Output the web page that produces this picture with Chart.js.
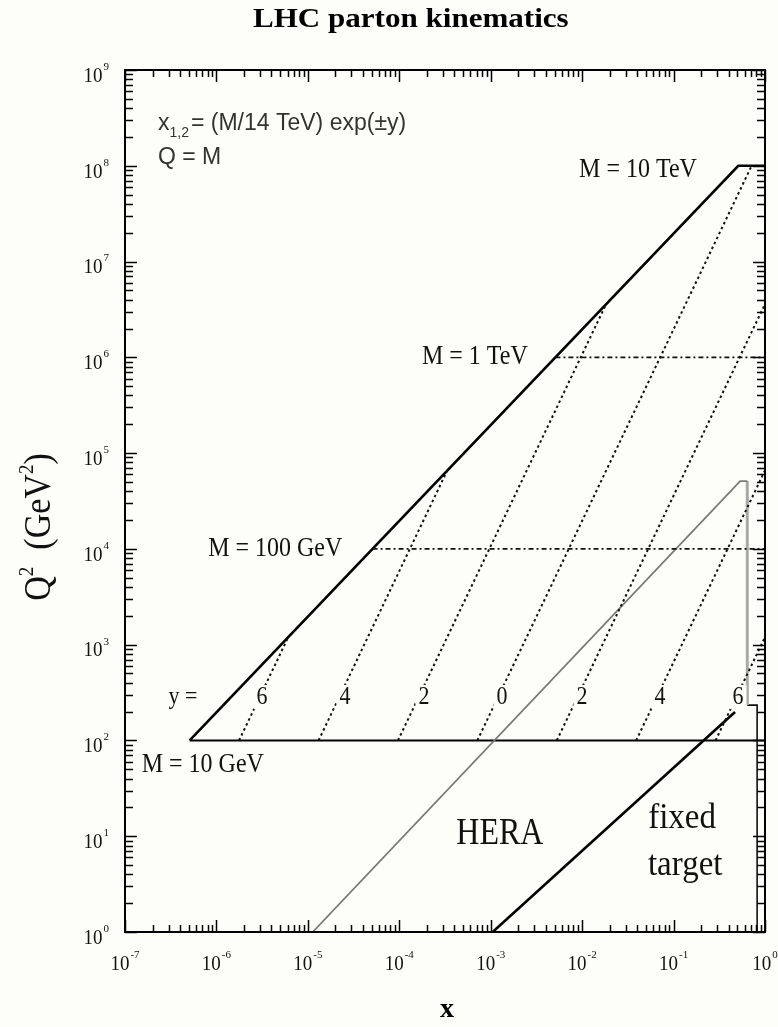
<!DOCTYPE html>
<html>
<head>
<meta charset="utf-8">
<script src="https://cdn.jsdelivr.net/npm/chart.js@4"></script>
<style>
  html, body { margin: 0; padding: 0; background: #fdfdf9; }
  #wrap { width: 778px; height: 1027px; position: relative; }
</style>
</head>
<body>
<div id="wrap"><canvas id="c" width="778" height="1027"></canvas></div>
<script>
// ---- data (x, Q^2 pairs) ----
const boundaryX = [5.1e-7, 0.51, 1];
const boundaryQ2 = [1e2, 1e8, 1e8];
const m10X = [5.1e-7, 1];
const m10Q2 = [1e2, 1e2];
const m100X = [5.1e-5, 1];
const m100Q2 = [1e4, 1e4];
const m1000X = [5.1e-3, 1];
const m1000Q2 = [1e6, 1e6];

const yLeft6X = [1.77e-6, 6.1e-6];   const yLeft6Q2 = [1e2, 1.2e3];
const yLeft4X = [1.31e-5, 3.35e-4];  const yLeft4Q2 = [1e2, 6.6e4];
const yLeft2X = [9.67e-5, 1.83e-2];  const yLeft2Q2 = [1e2, 3.6e6];
const y0X = [7.14e-4, 0.714];        const y0Q2 = [1e2, 1e8];
const yRight2X = [5.28e-3, 1];       const yRight2Q2 = [1e2, 3.6e6];
const yRight4X = [3.9e-2, 1];        const yRight4Q2 = [1e2, 6.6e4];
const yRight6X = [2.88e-1, 1];       const yRight6Q2 = [1e2, 1.2e3];

const heraX = [1.13e-5, 0.535, 0.64];
const heraQ2 = [1, 5.1e4, 5.1e4];
const heraEdgeX = [0.64, 0.64];
const heraEdgeQ2 = [5.1e4, 234];
const fixedEdgeX = [0.64, 0.82, 0.82];
const fixedEdgeQ2 = [234, 234, 1];
const fixedX = [1.05e-3, 0.47];
const fixedQ2 = [1, 198];

const xTickExps = [-7, -6, -5, -4, -3, -2, -1, 0];
const yTickExps = [0, 1, 2, 3, 4, 5, 6, 7, 8, 9];
const yLabelValues = ['6', '4', '2', '0', '2', '4', '6'];
const yLabelX = [3.15e-6, 2.55e-5, 1.86e-4, 1.33e-3, 9.96e-3, 7.1e-2, 0.507];

const BG = '#fdfdf9';

function pts(xs, ys) { return xs.map((x, i) => ({ x: x, y: ys[i] })); }
function ds(xs, ys, color, width, dash) {
  return { data: pts(xs, ys), borderColor: color, borderWidth: width, borderDash: dash || [],
           pointRadius: 0, fill: false, tension: 0, showLine: true, borderCapStyle: 'butt',
           borderJoinStyle: 'miter' };
}
const DOT = [2.5, 3];
const DASHDOT = [5, 3, 2, 3];

const datasets = [
  ds(m100X, m100Q2, '#111', 1.7, DASHDOT),
  ds(m1000X, m1000Q2, '#111', 1.7, DASHDOT),
  ds(yLeft6X, yLeft6Q2, '#111', 2, DOT),
  ds(yLeft4X, yLeft4Q2, '#111', 2, DOT),
  ds(yLeft2X, yLeft2Q2, '#111', 2, DOT),
  ds(y0X, y0Q2, '#111', 2, DOT),
  ds(yRight2X, yRight2Q2, '#111', 2, DOT),
  ds(yRight4X, yRight4Q2, '#111', 2, DOT),
  ds(yRight6X, yRight6Q2, '#111', 2, DOT),
  ds(heraX, heraQ2, '#7a7a7a', 1.8),
  ds(heraEdgeX, heraEdgeQ2, '#a8a8a8', 3),
  ds(fixedEdgeX, fixedEdgeQ2, '#111', 1.6),
  ds(fixedX, fixedQ2, '#000', 2.6),
  ds(m10X, m10Q2, '#000', 2),
  ds(boundaryX, boundaryQ2, '#000', 2.6),
];

function txt(ctx, s, x, y, o) {
  o = o || {};
  const size = o.size || 20;
  const sy = o.sy || 1;
  const sx = o.sx || 1;
  ctx.save();
  ctx.font = (o.bold ? 'bold ' : '') + size + 'px ' + (o.family || '"Liberation Serif", "Times New Roman", serif');
  ctx.textAlign = o.align || 'center';
  ctx.textBaseline = 'middle';
  if (o.bg) {
    const w = ctx.measureText(s).width * sx;
    let left = x - w / 2;
    if (ctx.textAlign === 'left') left = x;
    if (ctx.textAlign === 'right') left = x - w;
    const h = size * 0.8 * sy;
    ctx.fillStyle = o.bg;
    ctx.fillRect(left - 3, y - h / 2 - 2, w + 6, h + 4);
  }
  ctx.translate(x, y);
  ctx.scale(sx, sy);
  ctx.fillStyle = o.color || '#111';
  ctx.fillText(s, 0, 0);
  ctx.restore();
}

function pow10(ctx, exp, x, y, align) {
  ctx.save();
  const bf = '19px "Liberation Serif", serif';
  const ef = '11px "Liberation Serif", serif';
  ctx.font = bf; const wb = ctx.measureText('10').width;
  ctx.font = ef; const we = ctx.measureText(String(exp)).width;
  const total = wb + we + 1;
  let left = x - total / 2;
  if (align === 'right') left = x - total;
  ctx.fillStyle = '#111';
  ctx.textBaseline = 'middle';
  ctx.textAlign = 'left';
  ctx.translate(left, y);
  ctx.save(); ctx.scale(1, 1.15); ctx.font = bf; ctx.fillText('10', 0, 0); ctx.restore();
  ctx.font = ef;
  ctx.fillText(String(exp), wb + 1, -9);
  ctx.restore();
}

const decor = {
  id: 'decor',
  beforeDraw(chart) {
    const ctx = chart.ctx;
    ctx.save(); ctx.fillStyle = BG; ctx.fillRect(0, 0, chart.width, chart.height); ctx.restore();
  },
  afterDatasetsDraw(chart) {
    const ctx = chart.ctx, xs = chart.scales.x, ys = chart.scales.y;
    const P = (xv, yv) => [xs.getPixelForValue(xv), ys.getPixelForValue(yv)];
    let p;
    // formula annotation
    const SANS = '"Liberation Sans", Arial, sans-serif';
    txt(ctx, 'Q = M', 158, 157, { size: 23, align: 'left', family: SANS, color: '#333', sy: 1.05 });
    ctx.save();
    ctx.font = '23px ' + SANS;
    ctx.fillStyle = '#333'; ctx.textBaseline = 'middle'; ctx.textAlign = 'left';
    let cx = 158; const cy = 124;
    ctx.fillText('x', cx, cy); cx += ctx.measureText('x').width;
    ctx.font = '14px ' + SANS;
    ctx.fillText('1,2', cx, cy + 9); cx += ctx.measureText('1,2').width + 2;
    ctx.font = '23px ' + SANS;
    ctx.fillText('= (M/14 TeV) exp(\u00b1y)', cx, cy);
    ctx.restore();

    p = P(0.0408, 9.0e7); txt(ctx, 'M = 10 TeV', p[0], p[1], { size: 24, sy: 1.12, bg: BG });
    p = P(6.7e-4, 1e6);   txt(ctx, 'M = 1 TeV', p[0], p[1], { size: 24, sy: 1.12, bg: BG });
    p = P(4.4e-6, 1e4);   txt(ctx, 'M = 100 GeV', p[0], p[1], { size: 24, sy: 1.12, bg: BG });
    p = P(7.1e-7, 55);    txt(ctx, 'M = 10 GeV', p[0], p[1], { size: 24, sy: 1.12, bg: BG });
    p = P(4.3e-7, 284);   txt(ctx, 'y =', p[0], p[1], { size: 22, sy: 1.15, bg: BG });
    yLabelValues.forEach((v, i) => {
      p = P(yLabelX[i], 284); txt(ctx, v, p[0], p[1], { size: 22, sy: 1.15, bg: BG });
    });
    p = P(1.26e-3, 10.5); txt(ctx, 'HERA', p[0], p[1], { size: 32, sy: 1.2 });
    p = P(0.124, 15.5);   txt(ctx, 'fixed', p[0], p[1], { size: 33, sy: 1.1 });
    p = P(0.134, 5.0);    txt(ctx, 'target', p[0], p[1], { size: 33, sy: 1.1 });
  },
  afterDraw(chart) {
    const ctx = chart.ctx, xs = chart.scales.x, ys = chart.scales.y, a = chart.chartArea;
    ctx.save();
    ctx.strokeStyle = '#000';
    ctx.lineWidth = 2;
    ctx.strokeRect(a.left, a.top, a.right - a.left, a.bottom - a.top);
    ctx.lineWidth = 1.5;
    ctx.beginPath();
    xTickExps.forEach((e) => {
      const ks = e < 0 ? [1, 2, 3, 4, 5, 6, 7, 8, 9] : [1];
      ks.forEach((k) => {
        const px = Math.round(xs.getPixelForValue(k * Math.pow(10, e))) + 0.5;
        const L = k === 1 ? 12 : 7;
        ctx.moveTo(px, a.bottom); ctx.lineTo(px, a.bottom - L);
        ctx.moveTo(px, a.top); ctx.lineTo(px, a.top + L);
      });
    });
    yTickExps.forEach((e) => {
      const ks = e < 9 ? [1, 2, 3, 4, 5, 6, 7, 8, 9] : [1];
      ks.forEach((k) => {
        const py = Math.round(ys.getPixelForValue(k * Math.pow(10, e))) + 0.5;
        const L = k === 1 ? 12 : 8;
        ctx.moveTo(a.left, py); ctx.lineTo(a.left + L, py);
        ctx.moveTo(a.right, py); ctx.lineTo(a.right - L, py);
      });
    });
    ctx.stroke();
    ctx.restore();
    // tick labels
    xTickExps.forEach((e) => {
      pow10(ctx, e === 0 ? '0' : String(e), xs.getPixelForValue(Math.pow(10, e)), a.bottom + 32, 'center');
    });
    yTickExps.forEach((e) => {
      pow10(ctx, String(e), a.left - 16, ys.getPixelForValue(Math.pow(10, e)) + 6, 'right');
    });
    // titles
    txt(ctx, 'LHC parton kinematics', 253, 20, { size: 27, bold: true, color: '#000', align: 'left', sx: 1.15 });
    txt(ctx, 'x', 447, 1010, { size: 28, bold: true, color: '#000' });
    // y axis title
    ctx.save();
    ctx.translate(40, 527);
    ctx.rotate(-Math.PI / 2);
    ctx.scale(1, 1.1);
    ctx.fillStyle = '#111';
    ctx.textBaseline = 'middle';
    ctx.textAlign = 'left';
    const f1 = '34px "Liberation Serif", serif', f2 = '19px "Liberation Serif", serif';
    const parts = [['Q', f1, 0], ['2', f2, -11], ['  (GeV', f1, 0], ['2', f2, -11], [')', f1, 0]];
    let w = 0;
    parts.forEach((q) => { ctx.font = q[1]; w += ctx.measureText(q[0]).width; });
    let xx = -w / 2;
    parts.forEach((q) => { ctx.font = q[1]; ctx.fillText(q[0], xx, q[2]); xx += ctx.measureText(q[0]).width; });
    ctx.restore();
  }
};

new Chart(document.getElementById('c'), {
  type: 'scatter',
  data: { datasets: datasets },
  options: {
    responsive: false,
    animation: false,
    devicePixelRatio: 1,
    layout: { padding: { left: 125, top: 70, right: 13, bottom: 95 } },
    plugins: { legend: { display: false }, tooltip: { enabled: false }, title: { display: false } },
    scales: {
      x: {
        type: 'logarithmic', min: 1e-7, max: 1,
        grid: { display: false, drawTicks: false }, border: { display: false },
        ticks: { display: false },
        afterFit: (s) => { s.height = 0; }
      },
      y: {
        type: 'logarithmic', min: 1, max: 1e9,
        grid: { display: false, drawTicks: false }, border: { display: false },
        ticks: { display: false },
        afterFit: (s) => { s.width = 0; }
      }
    }
  },
  plugins: [decor]
});
</script>
</body>
</html>
